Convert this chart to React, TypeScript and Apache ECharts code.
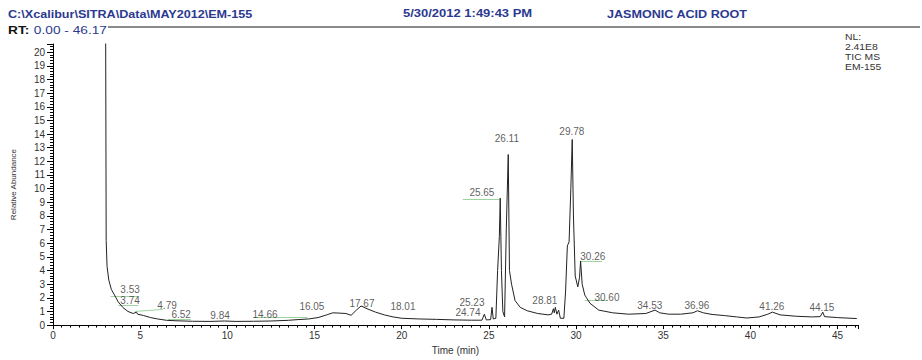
import React, { useEffect, useRef } from "react";
import * as echarts from "echarts";

// ---- Data ----
const traceTimes = [
  2.98, 3.02, 3.05, 3.1, 3.2, 3.35, 3.53, 3.74, 4.0, 4.3, 4.6, 4.79, 4.85, 5.2, 5.6, 6.0, 6.52, 7.0, 8.0, 9.0,
  9.84, 10.5, 11.5, 12.5, 13.5, 14.0, 14.66, 15.2, 15.7, 16.05, 16.4, 16.8, 17.1, 17.4, 17.67, 18.01, 18.5, 19.0,
  19.5, 20.0, 21.0, 22.0, 23.0, 24.0, 24.6, 24.74, 24.85, 25.1, 25.18, 25.25, 25.4, 25.5, 25.6, 25.65, 25.72,
  25.8, 25.9, 26.0, 26.11, 26.18, 26.3, 26.5, 26.8, 27.2, 27.8, 28.4, 28.6, 28.7, 28.75, 28.81, 28.9, 29.0,
  29.1, 29.3, 29.4, 29.5, 29.6, 29.7, 29.78, 29.85, 29.95, 30.1, 30.2, 30.26, 30.35, 30.5, 30.6, 30.8, 31.3,
  32.1, 33.0, 34.0, 34.53, 34.8, 35.3, 36.0, 36.7, 36.96, 37.3, 37.8, 38.5, 39.2, 39.8, 40.5, 41.0, 41.26,
  41.7, 42.6, 43.5, 44.0, 44.15, 44.25, 45.0, 46.1,
];
const traceValues = [
  22.0, 21.5, 6.2, 4.3, 3.3, 2.6, 2.2, 1.7, 1.3, 1.0, 0.85, 0.95, 0.8, 0.7, 0.55, 0.45, 0.35, 0.32, 0.28, 0.27,
  0.3, 0.27, 0.28, 0.3, 0.35, 0.4, 0.45, 0.55, 0.75, 0.9, 0.88, 0.85, 0.72, 1.1, 1.4, 1.2, 0.95, 0.75,
  0.6, 0.5, 0.45, 0.42, 0.38, 0.36, 0.36, 0.8, 0.38, 0.4, 1.3, 0.45, 0.5, 4.0, 6.5, 9.3, 4.0,
  1.0, 0.6, 7.1, 12.5, 4.0, 3.0, 1.8, 1.3, 1.05, 0.85, 0.75, 0.8, 1.2, 0.9, 1.3, 0.8, 1.1,
  0.5, 0.5, 2.5, 5.8, 6.1, 10.0, 13.6, 8.0, 3.6, 2.8, 3.5, 4.7, 3.0, 2.2, 2.0, 1.6, 1.1,
  0.9, 0.8, 0.85, 1.1, 0.9, 0.8, 0.8, 0.9, 1.05, 0.9, 0.78, 0.7, 0.6, 0.52, 0.6, 0.8, 0.95,
  0.75, 0.65, 0.6, 0.62, 0.95, 0.62, 0.55, 0.48,
];

const labelTexts = [
  "3.53", "3.74", "4.79", "6.52", "9.84", "14.66", "16.05", "17.67", "18.01", "25.23", "24.74",
  "25.65", "26.11", "28.81", "29.78", "30.26", "30.60", "34.53", "36.96", "41.26", "44.15",
];
const labelTimes = [
  4.42, 4.42, 6.54, 7.35, 9.58, 12.16, 14.85, 17.72, 20.07, 24.03, 23.8,
  24.6, 26.03, 28.21, 29.76, 30.96, 31.77, 34.23, 36.93, 41.23, 44.1,
];
const labelLevels = [
  2.58, 1.8, 1.4, 0.76, 0.71, 0.79, 1.36, 1.57, 1.36, 1.62, 0.9,
  9.71, 13.64, 1.79, 14.21, 5.0, 2.0, 1.43, 1.43, 1.36, 1.29,
];

// green annotation leaders
const leaderStartTimes = [3.3, 3.75, 4.7, 6.6, 11.5, 23.5, 30.25, 30.5];
const leaderStartLevels = [2.1, 1.45, 1.0, 0.45, 0.6, 9.2, 4.65, 1.8];
const leaderEndTimes = [4.9, 4.9, 6.3, 7.9, 14.6, 25.6, 31.5, 31.8];
const leaderEndLevels = [2.1, 1.45, 1.15, 0.45, 0.6, 9.2, 4.65, 1.8];

const X_MAX = 46.17;
const Y_MAX = 20.6;

const FONT = "'Liberation Sans', Arial, sans-serif";
const BLUE = "#2b3990";

export default function App() {
  const ref = useRef<HTMLDivElement>(null);

  useEffect(() => {
    document.body.style.margin = "0";
    if (!ref.current) return;
    const chart = echarts.init(ref.current, null, { renderer: "svg" });

    const trace = traceTimes.map((t, i) => [t, traceValues[i]]);
    const labels = labelTimes.map((t, i) => [t, labelLevels[i]]);
    const leaders = leaderStartTimes.map((t, i) => ({
      coords: [
        [t, leaderStartLevels[i]],
        [leaderEndTimes[i], leaderEndLevels[i]],
      ],
    }));

    chart.setOption({
      animation: false,
      backgroundColor: "#ffffff",
      textStyle: { fontFamily: FONT },
      grid: { left: 53, right: 64, top: 44, bottom: 27, containLabel: false },
      xAxis: {
        type: "value",
        min: 0,
        max: X_MAX,
        interval: 5,
        name: "Time (min)",
        nameLocation: "middle",
        nameGap: 19,
        nameTextStyle: { fontSize: 10, color: "#333", fontFamily: FONT },
        axisLine: { show: true, lineStyle: { color: "#000", width: 1 } },
        axisTick: { show: true, length: 4, lineStyle: { color: "#000" } },
        minorTick: { show: true, splitNumber: 10, length: 2.5, lineStyle: { color: "#000" } },
        axisLabel: {
          fontSize: 10,
          color: "#333",
          margin: 5,
          fontFamily: FONT,
          formatter: (v: number) => (Math.abs(v % 5) < 1e-6 ? String(v) : ""),
        },
        splitLine: { show: false },
      },
      yAxis: {
        type: "value",
        min: 0,
        max: Y_MAX,
        interval: 1,
        name: "Relative Abundance",
        nameLocation: "middle",
        nameGap: 36,
        nameTextStyle: { fontSize: 8, color: "#333", fontFamily: FONT },
        axisLine: { show: true, lineStyle: { color: "#000", width: 1 } },
        axisTick: { show: true, length: 6, lineStyle: { color: "#000" } },
        minorTick: { show: true, splitNumber: 5, length: 3, lineStyle: { color: "#000" } },
        axisLabel: {
          fontSize: 10,
          color: "#333",
          margin: 8,
          fontFamily: FONT,
          formatter: (v: number) => (Math.abs(v - Math.round(v)) < 1e-6 ? String(v) : ""),
        },
        splitLine: { show: false },
      },
      series: [
        {
          type: "line",
          data: trace,
          showSymbol: false,
          symbol: "none",
          clip: true,
          lineStyle: { color: "#222", width: 1 },
          z: 3,
        },
        {
          type: "lines",
          coordinateSystem: "cartesian2d",
          data: leaders,
          lineStyle: { color: "#93cf93", width: 1, opacity: 0.9 },
          silent: true,
          z: 2,
        },
        {
          type: "scatter",
          data: labels,
          symbolSize: 0,
          silent: true,
          label: {
            show: true,
            position: "inside",
            fontSize: 10,
            color: "#333",
            fontFamily: FONT,
            formatter: (p: any) => labelTexts[p.dataIndex],
          },
          z: 4,
        },
      ],
      graphic: [
        {
          type: "text",
          x: 8,
          y: 14,
          scaleX: 1.26,
          style: {
            text: "C:\\Xcalibur\\SITRA\\Data\\MAY2012\\EM-155",
            fill: BLUE,
            font: `bold 10px ${FONT}`,
            verticalAlign: "middle",
          },
        },
        {
          type: "text",
          x: 403,
          y: 14,
          scaleX: 1.3,
          style: { text: "5/30/2012 1:49:43 PM", fill: BLUE, font: `bold 10px ${FONT}`, verticalAlign: "middle" },
        },
        {
          type: "text",
          x: 607,
          y: 14,
          scaleX: 1.26,
          style: { text: "JASMONIC ACID ROOT", fill: BLUE, font: `bold 10px ${FONT}`, verticalAlign: "middle" },
        },
        {
          type: "line",
          shape: { x1: 108, y1: 27, x2: 920, y2: 27 },
          style: { stroke: "#8a8a8a", lineWidth: 2 },
        },
        {
          type: "text",
          x: 8,
          y: 31,
          scaleX: 1.37,
          style: {
            text: "{a|RT:} {b|0.00 - 46.17}",
            verticalAlign: "middle",
            rich: {
              a: { fill: "#111", font: `bold 10px ${FONT}` },
              b: { fill: BLUE, font: `10px ${FONT}` },
            },
          },
        },
        {
          type: "text",
          x: 845,
          y: 32,
          scaleX: 1.15,
          style: { text: "NL:\n2.41E8\nTIC MS\nEM-155", fill: "#333", font: `9px ${FONT}`, lineHeight: 10 },
        },
      ],
    });

    return () => chart.dispose();
  }, []);

  return <div ref={ref} style={{ width: 922, height: 360 }} />;
}
